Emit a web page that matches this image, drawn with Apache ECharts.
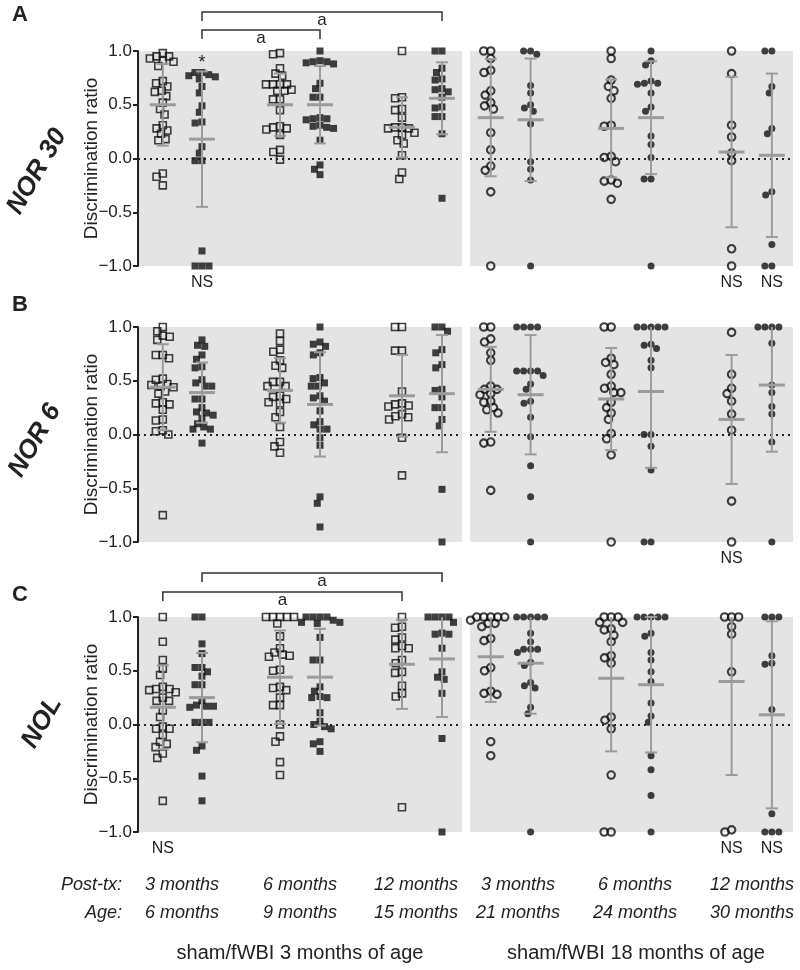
<!DOCTYPE html>
<html><head><meta charset="utf-8">
<script src="https://cdn.jsdelivr.net/npm/echarts@6.0.0/dist/echarts.min.js"></script>
<style>html,body{margin:0;padding:0;background:#fff}#chart{width:800px;height:970px}</style>
</head><body><div id="chart"></div>
<script>
// ---------- labels ----------
const panelLetters = ['A', 'B', 'C'];
const panelTests = ['NOR 30', 'NOR 6', 'NOL'];
const postTxLabels = ['3 months', '6 months', '12 months', '3 months', '6 months', '12 months'];
const ageLabels = ['6 months', '9 months', '15 months', '21 months', '24 months', '30 months'];
const cohortLabels = ['sham/fWBI 3 months of age', 'sham/fWBI 18 months of age'];
const yTickValues = [-1, -0.5, 0, 0.5, 1];
const yAxisTitle = 'Discrimination ratio';

// ---------- NOR 30 (panel A) ----------  groups: 3 / 6 / 12 months post-tx
const nor30YoungSham = [
  [0.98,0.95,0.95,0.93,0.91,0.90,0.86,0.72,0.70,0.67,0.63,0.62,0.58,0.52,0.46,0.41,0.31,0.28,0.26,0.23,0.18,0.17,-0.14,-0.17,-0.25],
  [0.98,0.97,0.84,0.79,0.77,0.69,0.69,0.69,0.69,0.64,0.63,0.63,0.55,0.55,0.45,0.30,0.29,0.28,0.27,0.22,0.08,0.06,-0.01],
  [1.0,0.57,0.56,0.46,0.45,0.38,0.29,0.29,0.28,0.28,0.24,0.22,0.17,0.14,0.03,-0.13,-0.19]];
const nor30YoungFwbi = [
  [0.80,0.80,0.78,0.77,0.76,0.74,0.67,0.61,0.49,0.43,0.34,0.33,0.11,0.05,-0.02,-0.02,-0.86,-1,-1,-1],
  [1.0,0.91,0.90,0.90,0.89,0.88,0.70,0.65,0.57,0.57,0.38,0.37,0.37,0.36,0.31,0.30,0.29,0.28,0.17,-0.06,-0.10,-0.15],
  [1.0,1.0,0.84,0.80,0.74,0.73,0.65,0.64,0.62,0.57,0.48,0.47,0.39,0.39,0.23,-0.37]];
const nor30OldSham = [
  [1.0,1.0,0.93,0.82,0.80,0.63,0.59,0.52,0.49,0.46,0.24,0.08,-0.07,-0.11,-0.31,-1.0],
  [1.0,0.93,0.73,0.67,0.63,0.56,0.31,0.30,0.02,0.01,-0.03,-0.20,-0.21,-0.23,-0.38],
  [1.0,0.79,0.31,0.20,0.05,-0.02,-0.84,-1.0]];
const nor30OldFwbi = [
  [1.0,1.0,0.97,0.68,0.61,0.50,0.47,0.44,0.32,-0.03,-0.10,-0.20,-1.0],
  [1.0,0.91,0.87,0.72,0.70,0.70,0.69,0.61,0.48,0.44,0.21,0.13,0.01,-0.19,-0.19,-1.0],
  [1.0,1.0,0.67,0.61,0.28,0.23,-0.31,-0.34,-0.80,-1.0,-1.0]];
// mean / SD per column, order: sham, fWBI for 3, 6, 12 months
const nor30YoungMean = [0.50,0.18,0.50,0.50,0.29,0.56];
const nor30YoungSd   = [0.38,0.63,0.29,0.36,0.28,0.335];
const nor30OldMean   = [0.38,0.36,0.28,0.38,0.06,0.03];
const nor30OldSd     = [0.545,0.57,0.455,0.525,0.70,0.76];

// ---------- NOR 6 (panel B) ----------
const nor6YoungSham = [
  [1.0,0.96,0.92,0.91,0.88,0.74,0.74,0.71,0.52,0.51,0.47,0.46,0.45,0.44,0.40,0.38,0.30,0.29,0.28,0.23,0.14,0.13,0.04,0.03,0.0,-0.75],
  [0.94,0.87,0.79,0.77,0.69,0.64,0.62,0.49,0.49,0.45,0.45,0.36,0.35,0.33,0.30,0.29,0.21,0.16,0.07,-0.07,-0.11,-0.17],
  [1.0,1.0,0.78,0.78,0.40,0.29,0.28,0.27,0.26,0.19,0.17,0.16,0.14,-0.03,-0.38]];
const nor6YoungFwbi = [
  [0.88,0.83,0.82,0.74,0.70,0.63,0.62,0.51,0.48,0.45,0.45,0.33,0.33,0.25,0.21,0.20,0.18,0.15,0.10,0.07,0.05,0.05,-0.08],
  [1.0,0.86,0.84,0.82,0.76,0.74,0.53,0.52,0.48,0.45,0.45,0.36,0.34,0.31,0.22,0.12,0.09,0.05,0.05,-0.03,-0.10,-0.58,-0.64,-0.86],
  [1.0,1.0,0.96,0.79,0.76,0.65,0.62,0.42,0.41,0.35,0.25,0.25,0.14,0.08,-0.51,-1.0]];
const nor6OldSham = [
  [1.0,1.0,0.89,0.86,0.76,0.69,0.45,0.42,0.42,0.38,0.37,0.31,0.30,0.25,0.23,0.20,-0.07,-0.08,-0.52],
  [1.0,1.0,0.71,0.67,0.65,0.56,0.45,0.43,0.39,0.39,0.30,0.25,0.20,0.14,0.01,-0.04,-0.19,-1.0],
  [0.95,0.56,0.43,0.38,0.31,0.19,0.04,-0.62,-1.0]];
const nor6OldFwbi = [
  [1,1,1,1,0.59,0.59,0.59,0.59,0.55,0.47,0.42,0.31,0.29,0.16,-0.02,-0.29,-0.58,-1.0],
  [1,1,1,1,1,0.84,0.83,0.80,0.69,0.62,0.0,0.0,-0.11,-0.33,-1,-1],
  [1,1,1,1,0.85,0.46,0.39,0.26,0.19,-0.07,-1.0]];
const nor6YoungMean = [0.44,0.39,0.41,0.28,0.36,0.38];
const nor6YoungSd   = [0.40,0.28,0.30,0.485,0.38,0.545];
const nor6OldMean   = [0.42,0.37,0.33,0.40,0.14,0.46];
const nor6OldSd     = [0.395,0.555,0.475,0.71,0.60,0.62];

// ---------- NOL (panel C) ----------
const nolYoungSham = [
  [1.0,0.77,0.60,0.52,0.46,0.35,0.33,0.33,0.32,0.30,0.25,0.22,0.22,0.13,0.07,-0.02,-0.04,-0.04,-0.10,-0.16,-0.18,-0.21,-0.27,-0.31,-0.71],
  [1,1,1,1,1,0.94,0.82,0.71,0.67,0.65,0.64,0.63,0.51,0.50,0.35,0.34,0.32,0.25,0.18,0.18,0.0,-0.11,-0.16,-0.35,-0.47],
  [1.0,0.91,0.90,0.81,0.79,0.73,0.71,0.71,0.60,0.57,0.49,0.48,0.36,0.29,0.26,-0.77]];
const nolYoungFwbi = [
  [1.0,1.0,0.75,0.66,0.53,0.53,0.49,0.45,0.37,0.37,0.22,0.18,0.17,0.17,0.16,0.02,0.02,0.02,-0.20,-0.24,-0.48,-0.71],
  [1,1,1,1,0.97,0.95,0.95,0.94,0.81,0.60,0.60,0.35,0.31,0.26,0.25,0.25,0.11,0.03,0.0,-0.02,-0.04,-0.16,-0.18,-0.25],
  [1,1,1,1,0.95,0.85,0.84,0.84,0.71,0.49,0.44,0.42,0.29,-0.13,-1.0]];
const nolOldSham = [
  [1,1,1,1,1,0.97,0.94,0.94,0.91,0.80,0.78,0.53,0.50,0.31,0.29,0.28,-0.16,-0.29],
  [1,1,1,0.95,0.95,0.89,0.88,0.83,0.77,0.64,0.62,0.57,0.07,0.04,-0.04,-0.47,-1,-1],
  [1,1,1,0.91,0.84,0.49,-0.98,-1.0]];
const nolOldFwbi = [
  [1,1,1,1,1,0.85,0.77,0.70,0.70,0.70,0.67,0.58,0.55,0.39,0.36,0.34,0.16,0.10,-1.0],
  [1,1,1,1,1,0.85,0.82,0.67,0.60,0.49,0.40,0.20,0.08,0.02,-0.29,-0.42,-0.66,-1.0],
  [1,1,1,0.64,0.57,0.56,0.14,-0.83,-1,-1,-1]];
const nolYoungMean = [0.16,0.25,0.44,0.44,0.56,0.61];
const nolYoungSd   = [0.39,0.415,0.435,0.45,0.415,0.54];
const nolOldMean   = [0.63,0.57,0.43,0.37,0.40,0.09];
const nolOldSd     = [0.42,0.47,0.68,0.63,0.87,0.87];

// ---------- annotations: [panel, cohort, column] ----------
const nsMarks = [[0,0,1],[0,1,4],[0,1,5],[1,1,4],[2,0,0],[2,1,4],[2,1,5]];
const starMarks = [[0,0,1]];
// [panel, cohort, fromColumn, toColumn, label]
const brackets = [[0,0,1,5,'a'],[0,0,1,3,'a'],[2,0,1,5,'a'],[2,0,0,4,'a']];

// ---------- layout (not data) ----------
const FONT = "'Liberation Sans', Arial, Helvetica, sans-serif";
const PANEL_TOP = [51, 327, 617];
const PLOT_H = 215;
const GRID_LEFT = [138, 470];
const GRID_W = [324, 323];
const X_MAX = 8.1;
const SLOT_X = [[0.62,1.6,3.55,4.55,6.6,7.6],[0.52,1.52,3.54,4.54,6.56,7.57]];
const BRACKET_Y = [12, 30, 573, 592];
const LABEL_X = [182, 300, 416, 518, 635, 752];
const BG = '#e4e4e4';
const BAR = '#9b9b9b';

const panelData = [
  {young:[nor30YoungSham,nor30YoungFwbi], old:[nor30OldSham,nor30OldFwbi], ym:nor30YoungMean, ys:nor30YoungSd, om:nor30OldMean, os:nor30OldSd},
  {young:[nor6YoungSham,nor6YoungFwbi], old:[nor6OldSham,nor6OldFwbi], ym:nor6YoungMean, ys:nor6YoungSd, om:nor6OldMean, os:nor6OldSd},
  {young:[nolYoungSham,nolYoungFwbi], old:[nolOldSham,nolOldFwbi], ym:nolYoungMean, ys:nolYoungSd, om:nolOldMean, os:nolOldSd}
];

const PX_X = 40;            // px per x unit
const PX_Y = PLOT_H / 2;    // px per y unit
const DIAM = 7;             // collision diameter in px

// beeswarm: each point takes the offset nearest the centre that does not collide
function swarm(values, cx) {
  const v = values.slice().sort((a, b) => b - a);
  const placed = [];
  const out = [];
  v.forEach(val => {
    const y = val * PX_Y;
    const forb = [];
    placed.forEach(q => {
      const dy = Math.abs(q[1] - y);
      if (dy < DIAM) { const w = Math.sqrt(DIAM * DIAM - dy * dy); forb.push([q[0] - w, q[0] + w]); }
    });
    const cands = [0];
    forb.forEach(f => { cands.push(f[0] - 0.01, f[1] + 0.01); });
    cands.sort((a, b) => Math.abs(a) - Math.abs(b) || a - b);
    let best = 0;
    for (const cnd of cands) {
      if (!forb.some(f => cnd > f[0] && cnd < f[1])) { best = cnd; break; }
    }
    placed.push([best, y]);
    out.push([cx + best / PX_X, val]);
  });
  return out;
}

const chart = echarts.init(document.getElementById('chart'), null, {renderer: 'canvas'});
const grids = [], xAxes = [], yAxes = [], series = [];

for (let p = 0; p < 3; p++) {
  for (let c = 0; c < 2; c++) {
    const gi = p * 2 + c;
    grids.push({left: GRID_LEFT[c], top: PANEL_TOP[p], width: GRID_W[c], height: PLOT_H,
      show: true, backgroundColor: BG, borderWidth: 0});
    xAxes.push({type: 'value', gridIndex: gi, min: 0, max: X_MAX, show: false});
    yAxes.push({
      type: 'value', gridIndex: gi, min: -1, max: 1, interval: 0.5,
      name: c === 0 ? yAxisTitle : '', nameLocation: 'middle', nameGap: 37, nameMoveOverlap: false,
      nameTextStyle: {fontSize: 19, color: '#222', fontFamily: FONT},
      axisLine: {show: c === 0, lineStyle: {color: '#222', width: 2}},
      axisTick: {show: c === 0, length: 5, lineStyle: {color: '#222', width: 2}},
      axisLabel: {show: c === 0, fontSize: 17, color: '#222', fontFamily: FONT, margin: 6,
        customValues: yTickValues,
        formatter: v => (v < 0 ? '\u2212' : '') + Math.abs(v).toFixed(1)},
      splitLine: {show: false}
    });
    const d = panelData[p];
    const groups = c === 0 ? d.young : d.old;
    const means = c === 0 ? d.ym : d.om;
    const sds = c === 0 ? d.ys : d.os;
    for (let col = 0; col < 6; col++) {
      const tp = col % 2;            // 0 sham (open), 1 fWBI (filled)
      const g = Math.floor(col / 2);
      const vals = groups[tp][g];
      const isSquare = c === 0;
      const s = {
        type: 'scatter', xAxisIndex: gi, yAxisIndex: gi, z: 3, clip: false,
        symbol: isSquare ? 'rect' : 'circle',
        symbolSize: tp === 0 ? (isSquare ? 7 : 7.5) : 7,
        itemStyle: tp === 0
          ? {color: 'rgba(0,0,0,0)', borderColor: '#111', borderWidth: isSquare ? 1.6 : 2.1}
          : {color: '#111', borderWidth: 0},
        emphasis: {disabled: true}, silent: true,
        data: swarm(vals, SLOT_X[c][col])
      };
      if (col === 0) {
        s.markLine = {silent: true, symbol: 'none', label: {show: false},
          lineStyle: {type: [2, 4], color: '#222', width: 2}, data: [{yAxis: 0}]};
      }
      series.push(s);
    }
    series.push({
      type: 'custom', xAxisIndex: gi, yAxisIndex: gi, z: 5, silent: true,
      data: SLOT_X[c].map((x, i) => [x, means[i], sds[i]]),
      renderItem: (params, api) => {
        const x = api.value(0), m = api.value(1), s = api.value(2);
        const lo = Math.max(m - s, -1), hi = Math.min(m + s, 1);
        const pm = api.coord([x, m]), pl = api.coord([x, lo]), ph = api.coord([x, hi]);
        const st = {stroke: BAR, lineWidth: 2};
        const ch = [{type: 'line', shape: {x1: pl[0], y1: pl[1], x2: ph[0], y2: ph[1]}, style: st}];
        if (m - s >= -1) ch.push({type: 'line', shape: {x1: pl[0] - 6, y1: pl[1], x2: pl[0] + 6, y2: pl[1]}, style: st});
        if (m + s <= 1) ch.push({type: 'line', shape: {x1: ph[0] - 6, y1: ph[1], x2: ph[0] + 6, y2: ph[1]}, style: st});
        ch.push({type: 'line', shape: {x1: pm[0] - 13, y1: pm[1], x2: pm[0] + 13, y2: pm[1]}, style: {stroke: BAR, lineWidth: 3}});
        return {type: 'group', children: ch};
      }
    });
  }
}

chart.setOption({animation: false, backgroundColor: '#fff', grid: grids, xAxis: xAxes, yAxis: yAxes, series: series});

// ---------- text / annotations positioned via the axes ----------
function px(p, c, col, y) {
  return chart.convertToPixel({xAxisIndex: p * 2 + c, yAxisIndex: p * 2 + c}, [SLOT_X[c][col], y]);
}
const gfx = [];
const txt = (x, y, text, font, align, vAlign, rot) => gfx.push({type: 'text', x: x, y: y, rotation: rot || 0, silent: true,
  style: {text: text, font: font, fill: '#222', align: align || 'center', verticalAlign: vAlign || 'middle'}});

for (let p = 0; p < 3; p++) {
  txt(12, [15, 305, 595][p], panelLetters[p], 'bold 22px ' + FONT, 'left');
  const cy = PANEL_TOP[p] + PLOT_H / 2 + [13, 6, -2][p];
  txt([37, 35, 42][p], cy, panelTests[p], 'italic bold 26px ' + FONT, 'center', 'middle', Math.PI / 3);
}
nsMarks.forEach(([p, c, col]) => { const q = px(p, c, col, -1); txt(q[0], q[1] + 17, 'NS', '16px ' + FONT); });
starMarks.forEach(([p, c, col]) => { const q = px(p, c, col, 1); txt(q[0], q[1] + 12, '*', '18px ' + FONT); });
brackets.forEach(([p, c, a, b, lab], i) => {
  const x1 = px(p, c, a, 0)[0], x2 = px(p, c, b, 0)[0], y = BRACKET_Y[i];
  gfx.push({type: 'polyline', silent: true, shape: {points: [[x1, y + 9], [x1, y], [x2, y], [x2, y + 9]]},
    style: {stroke: '#333', lineWidth: 1.5, fill: null}});
  txt((x1 + x2) / 2, y + 8, lab, '17px ' + FONT);
});
// bottom labels
txt(122, 885, 'Post-tx:', 'italic 18px ' + FONT, 'right');
txt(122, 913, 'Age:', 'italic 18px ' + FONT, 'right');
for (let k = 0; k < 6; k++) {
  txt(LABEL_X[k], 885, postTxLabels[k], 'italic 18px ' + FONT);
  txt(LABEL_X[k], 913, ageLabels[k], 'italic 18px ' + FONT);
}
txt(300, 953, cohortLabels[0], '20px ' + FONT);
txt(636, 953, cohortLabels[1], '20px ' + FONT);
chart.setOption({graphic: gfx});
</script></body></html>
